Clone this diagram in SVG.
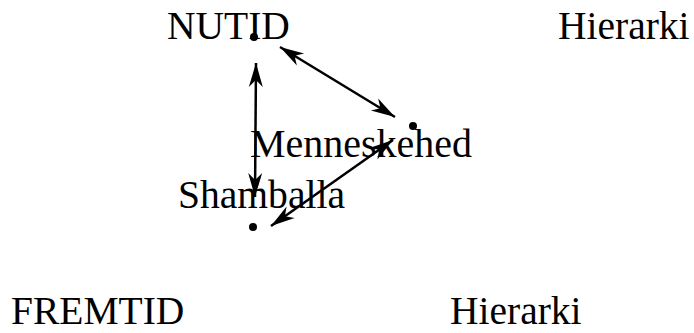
<svg xmlns="http://www.w3.org/2000/svg" width="694" height="333" viewBox="0 0 694 333">
<style>
text{font-family:"Liberation Serif","Times New Roman",serif;font-size:39.5px;fill:#000}
.c{stroke:#000;stroke-width:2.5;fill:none}
.d{fill:#000}
</style>
<defs>
<marker id="ah" markerWidth="26" markerHeight="18" refX="24" refY="9" orient="auto-start-reverse" markerUnits="userSpaceOnUse">
<path d="M0,2 L24,9 L0,16 L7,9 Z" fill="#000"/>
</marker>
</defs>
<rect width="694" height="333" fill="#fff"/>
<g id="labels">
<text x="167" y="39">NUTID</text>
<text x="558" y="39">Hierarki</text>
<text x="11" y="324">FREMTID</text>
<text x="450" y="324">Hierarki</text>
</g>
<g id="nutid"><circle class="d" cx="254" cy="37" r="4"/></g>
<g id="menneskehed"><circle class="d" cx="413" cy="126" r="4"/><text x="250" y="157" textLength="222" lengthAdjust="spacingAndGlyphs">Menneskehed</text></g>
<g id="shamballa"><circle class="d" cx="253" cy="227" r="4"/><text x="178" y="208" textLength="167" lengthAdjust="spacingAndGlyphs">Shamballa</text></g>
<g id="connectors">
<line class="c" x1="256" y1="63" x2="255" y2="197" marker-start="url(#ah)" marker-end="url(#ah)"/>
<line class="c" x1="280" y1="47" x2="395" y2="117" marker-start="url(#ah)" marker-end="url(#ah)"/>
<line class="c" x1="393" y1="140" x2="271" y2="226" marker-start="url(#ah)" marker-end="url(#ah)"/>
</g>
</svg>
